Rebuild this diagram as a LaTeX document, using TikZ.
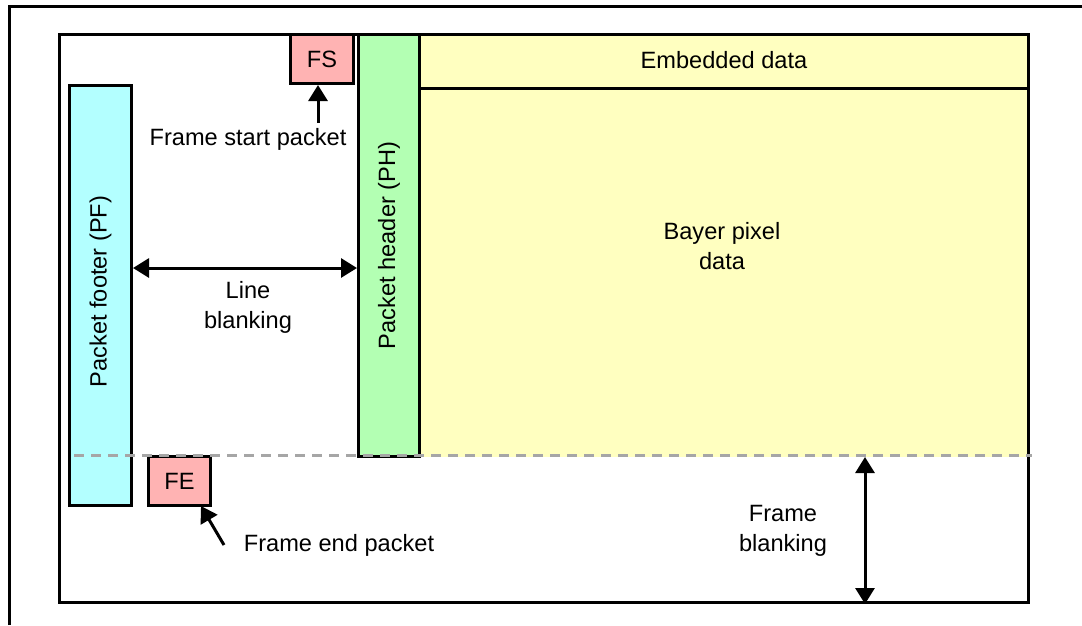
\documentclass[tikz,border=0pt]{standalone}
\usepackage{fontspec}
\setmainfont{Liberation Sans}
\usetikzlibrary{arrows.meta}
\definecolor{pinkc}{HTML}{FFB3B3}
\definecolor{cyanc}{HTML}{B3FFFF}
\definecolor{greenc}{HTML}{B3FFB3}
\definecolor{yellowc}{HTML}{FFFFC0}
\definecolor{dashc}{HTML}{A6A6A6}
\begin{document}
\begin{tikzpicture}[x=1pt,y=-1pt,line width=3pt,
  box/.style={draw=black,line width=3pt,inner sep=0pt,anchor=north west},
  fillonly/.style={draw=none,inner sep=0pt,anchor=north west},
  lbl/.style={font=\fontsize{23.6}{30}\selectfont,align=center,inner sep=0pt},
  arr/.style={-{Triangle[length=16pt,width=19pt]},line width=3pt},
  darr/.style={{Triangle[length=16pt,width=19pt]}-{Triangle[length=16pt,width=19pt]},line width=3pt},
  dline/.style={draw=dashc,line width=3pt,dash pattern=on 10pt off 7pt}]
\useasboundingbox (0,0) rectangle (1082,625);
% outer frame (partial)
\coordinate (O1) at (9,625);
\coordinate (O2) at (9,6);
\coordinate (O3) at (1084,6);
\draw (O1) -- (O2) -- (O3);
% yellow data area
\node[fillonly,fill=yellowc,minimum width=609pt,minimum height=422pt] (BD) at (418,33) {};
\node[fillonly,minimum width=609pt,minimum height=52pt] (ED) at (418,33) {};
\draw (ED.south west) -- (ED.south east);
\node[lbl] (edt) at (ED.center) {Embedded data};
\node[lbl] (bayer) at (722,246) {Bayer pixel\\data};
% packet header
\node[box,fill=greenc,minimum width=61pt,minimum height=422pt] (PH) at (357,33) {};
\node[lbl,rotate=90] (pht) at (PH.center) {Packet header (PH)};
% packet footer
\node[box,fill=cyanc,minimum width=62pt,minimum height=420pt] (PF) at (68,84) {};
\node[lbl,rotate=90] (pft) at ([yshift=4pt]PF.center) {Packet footer (PF)};
% FS and FE
\node[box,fill=pinkc,minimum width=63pt,minimum height=49pt] (FS) at (289,33) {};
\node[lbl] (fst) at (FS.center) {FS};
\node[box,fill=pinkc,minimum width=62pt,minimum height=49pt] (FE) at (147,455) {};
\node[lbl] (fet) at (FE.center) {FE};
% inner frame
\node[box,minimum width=969pt,minimum height=568pt] (IF) at (58,33) {};
% dashed boundary
\coordinate (dl) at (74,455);
\coordinate (dr) at (1032,455);
\draw[dline] (dl) -- (dr);
% labels
\node[lbl] (fsl) at (248,139) {Frame start packet};
\node[lbl] (fel) at (339,545) {Frame end packet};
\node[lbl] (lbt) at (248,307) {Line\\blanking};
\node[lbl] (fbt) at (783,531) {Frame\\blanking};
% arrows
\coordinate (fsa) at (318,123);
\draw[arr] (fsa) -- (fsa |- FS.south);
\coordinate (fea) at (224,545);
\coordinate (feh) at (201,506);
\draw[arr] (fea) -- (feh);
\coordinate (lb1) at (133,268);
\coordinate (lb2) at (357,268);
\draw[darr] (lb1) -- (lb2);
\coordinate (fb1) at (865,457);
\draw[darr] (fb1) -- (fb1 |- IF.south);
\end{tikzpicture}
\end{document}
